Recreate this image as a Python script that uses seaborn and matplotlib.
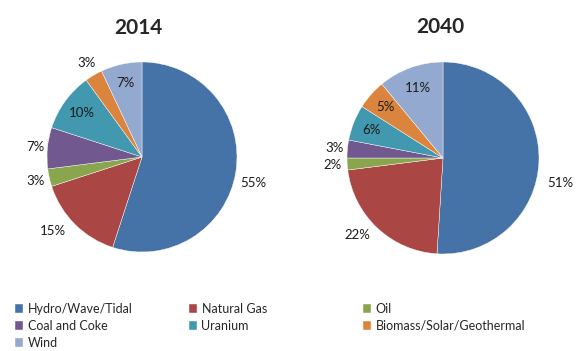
import matplotlib
matplotlib.use("Agg")
import matplotlib.pyplot as plt
import seaborn as sns
import numpy as np

# Data
sources = ["Hydro/Wave/Tidal", "Natural Gas", "Oil", "Coal and Coke",
           "Uranium", "Biomass/Solar/Geothermal", "Wind"]
share_2014 = [55, 15, 3, 7, 10, 3, 7]
share_2040 = [51, 22, 2, 3, 6, 5, 11]
years = ["2014", "2040"]

colors = ["#4572A7", "#AA4643", "#89A54E", "#71588F",
          "#4198AF", "#DB843D", "#93A9CF"]

# percent label placement (fraction of radius, angle nudge in degrees),
# mimicking Excel's "best fit"
label_r_2014 = [1.2, 1.22, 1.15, 1.13, 0.78, 1.15, 0.8]
label_r_2040 = [1.25, 1.2, 1.15, 1.13, 0.8, 0.8, 0.78]
label_nudge_2014 = [-4, -5, 0, 0, 0, 0, 0]
label_nudge_2040 = [-10, -5, 0, 0, 0, 0, 0]

sns.set_style("white")
plt.rcParams["font.family"] = ["Lato", "DejaVu Sans"]

fig = plt.figure(figsize=(5.8, 3.51), dpi=100)
W, H = 580, 351


def add_pie(cx, cy, r, values, label_r, nudge, title, title_dx):
    ax = fig.add_axes([(cx - r) / W, (H - cy - r) / H, 2 * r / W, 2 * r / H])
    wedges, _ = ax.pie(values, colors=colors, startangle=90, counterclock=False,
                       radius=1, wedgeprops=dict(edgecolor="white", linewidth=0.3))
    for w, v, lr, dn in zip(wedges, values, label_r, nudge):
        ang = np.deg2rad((w.theta1 + w.theta2) / 2 + dn)
        ax.text(lr * np.cos(ang), lr * np.sin(ang), f"{v}%", ha="center",
                va="center", fontsize=9.5, color="#1a1a1a")
    ax.set_xlim(-1, 1)
    ax.set_ylim(-1, 1)
    ax.set_aspect("equal")
    ax.axis("off")
    ax.text(0.5 + title_dx, 1.18, title, transform=ax.transAxes, ha="center",
            va="center", fontsize=15, fontweight="bold")
    return wedges


wedges = add_pie(142, 157, 95, share_2014, label_r_2014, label_nudge_2014,
                 years[0], -0.02)
add_pie(443, 158, 96, share_2040, label_r_2040, label_nudge_2040,
        years[1], -0.015)

# legend laid out row-wise in three equal columns
columns = [[0, 3, 6], [1, 4], [2, 5]]
col_x = [15, 189, 363]
for idx, x in zip(columns, col_x):
    fig.legend([wedges[i] for i in idx], [sources[i] for i in idx],
               loc="upper left", bbox_to_anchor=(x / W, 1 - 303 / H),
               frameon=False, fontsize=9, handlelength=0.65,
               handleheight=0.65, handletextpad=0.35, labelspacing=0.4,
               borderaxespad=0, borderpad=0)

fig.savefig("out.png", dpi=100)
